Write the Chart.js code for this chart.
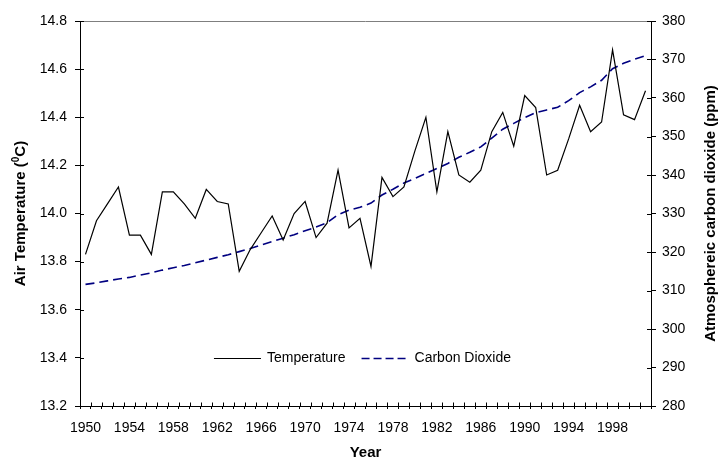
<!DOCTYPE html>
<html>
<head>
<meta charset="utf-8">
<script src="https://cdn.jsdelivr.net/npm/chart.js@4.4.1/dist/chart.umd.min.js"></script>
<style>
  html, body { margin: 0; padding: 0; background: #fff; }
  #wrap { width: 718px; height: 462px; }
</style>
</head>
<body>
<div id="wrap"><canvas id="c" width="718" height="462"></canvas></div>
<script>
// Annual mean air temperature and atmospheric CO2, 1950-2001
const years = [
  '1950','1951','1952','1953','1954','1955','1956','1957','1958','1959',
  '1960','1961','1962','1963','1964','1965','1966','1967','1968','1969',
  '1970','1971','1972','1973','1974','1975','1976','1977','1978','1979',
  '1980','1981','1982','1983','1984','1985','1986','1987','1988','1989',
  '1990','1991','1992','1993','1994','1995','1996','1997','1998','1999',
  '2000','2001'
];

// Air temperature (°C)
const temperature = [
  13.83, 13.97, 14.04, 14.11, 13.91, 13.91, 13.83, 14.09, 14.09, 14.04,
  13.98, 14.10, 14.05, 14.04, 13.76, 13.85, 13.92, 13.99, 13.89, 14.00,
  14.05, 13.90, 13.96, 14.18, 13.94, 13.98, 13.78, 14.15, 14.07, 14.11,
  14.26, 14.40, 14.09, 14.34, 14.16, 14.13, 14.18, 14.34, 14.42, 14.28,
  14.49, 14.44, 14.16, 14.18, 14.31, 14.45, 14.34, 14.38, 14.68, 14.41,
  14.39, 14.51
];

// Atmospheric carbon dioxide (ppm)
const carbonDioxide = [
  311.6, 312.0, 312.5, 313.0, 313.4, 314.0, 314.6, 315.3, 315.9, 316.5,
  317.2, 317.9, 318.6, 319.3, 320.1, 320.9, 321.8, 322.7, 323.6, 324.5,
  325.5, 326.5, 327.6, 329.7, 330.9, 331.6, 332.7, 334.8, 336.3, 337.9,
  339.1, 340.4, 341.7, 343.0, 344.6, 345.9, 347.3, 349.6, 351.9, 353.4,
  354.9, 356.2, 356.9, 357.6, 359.3, 361.4, 362.9, 364.6, 367.6, 369.0,
  370.1, 371.0
];

// Axis ranges and label text
const tempRange = { min: 13.2, max: 14.8, step: 0.2 };
const co2Range = { min: 280, max: 380, step: 10 };
const labelEvery = 4;
const titles = {
  x: 'Year',
  left: ['Air Temperature (', '0', 'C)'],
  right: 'Atmosphereic carbon dioxide (ppm)'
};

const FONT = "'Liberation Sans', Arial, sans-serif";

// Frame, inner tick halves, axis titles and the in-plot legend
const decorations = {
  id: 'decorations',
  afterDraw(chart) {
    const { ctx, chartArea: a, scales } = chart;
    ctx.save();

    // top edge of the plot frame
    ctx.strokeStyle = '#7f7f7f';
    ctx.lineWidth = 1;
    ctx.beginPath();
    ctx.moveTo(a.left, Math.round(a.top) + 0.5);
    ctx.lineTo(a.right, Math.round(a.top) + 0.5);
    ctx.stroke();

    // tick marks crossing into the plot area
    ctx.strokeStyle = '#000';
    ctx.beginPath();
    scales.y.ticks.forEach((t, i) => {
      const y = Math.round(scales.y.getPixelForTick(i)) + 0.5;
      ctx.moveTo(a.left, y); ctx.lineTo(a.left + 4, y);
    });
    scales.y1.ticks.forEach((t, i) => {
      const y = Math.round(scales.y1.getPixelForTick(i)) + 0.5;
      ctx.moveTo(a.right, y); ctx.lineTo(a.right - 4, y);
    });
    const xs = scales.x;
    const step = xs.getPixelForValue(1) - xs.getPixelForValue(0);
    for (let i = 0; i <= years.length; i++) {
      const px = Math.round(xs.getPixelForValue(i) - step / 2) + 0.5;
      ctx.moveTo(px, a.bottom); ctx.lineTo(px, a.bottom - 3.5);
    }
    ctx.stroke();

    ctx.fillStyle = '#000';
    const midY = (a.top + a.bottom) / 2;

    // left title with superscript degree mark
    ctx.save();
    ctx.translate(25, midY);
    ctx.rotate(-Math.PI / 2);
    const big = 'bold 15px ' + FONT, small = 'bold 10px ' + FONT;
    ctx.font = big; const w0 = ctx.measureText(titles.left[0]).width;
    ctx.font = small; const w1 = ctx.measureText(titles.left[1]).width;
    ctx.font = big; const w2 = ctx.measureText(titles.left[2]).width;
    let x0 = -(w0 + w1 + w2) / 2;
    ctx.textBaseline = 'alphabetic';
    ctx.textAlign = 'left';
    ctx.font = big; ctx.fillText(titles.left[0], x0, 0);
    ctx.font = small; ctx.fillText(titles.left[1], x0 + w0, -6);
    ctx.font = big; ctx.fillText(titles.left[2], x0 + w0 + w1, 0);
    ctx.restore();

    // right title
    ctx.save();
    ctx.translate(715, midY);
    ctx.rotate(-Math.PI / 2);
    ctx.font = big;
    ctx.textAlign = 'center';
    ctx.textBaseline = 'alphabetic';
    ctx.fillText(titles.right, 0, 0);
    ctx.restore();

    // x title
    ctx.font = big;
    ctx.textAlign = 'center';
    ctx.textBaseline = 'alphabetic';
    ctx.fillText(titles.x, (a.left + a.right) / 2, 457);

    // legend
    ctx.font = '14px ' + FONT;
    ctx.textBaseline = 'middle';
    ctx.textAlign = 'left';
    const lineLen = 47, gap = 6, itemGap = 16;
    const items = chart.data.datasets.map(ds => ({ ds, w: ctx.measureText(ds.label).width }));
    const total = items.reduce((s, it) => s + lineLen + gap + it.w, 0) + itemGap * (items.length - 1);
    let lx = (a.left + a.right) / 2 - 3 - total / 2;
    const ly = a.bottom - 48;
    items.forEach(it => {
      ctx.save();
      ctx.strokeStyle = it.ds.borderColor;
      ctx.lineWidth = it.ds.borderWidth;
      ctx.setLineDash(it.ds.borderDash ? [8, 4] : []);
      ctx.beginPath();
      ctx.moveTo(lx, ly + 0.5); ctx.lineTo(lx + lineLen, ly + 0.5);
      ctx.stroke();
      ctx.restore();
      ctx.fillStyle = '#000';
      ctx.fillText(it.ds.label, lx + lineLen + gap, ly);
      lx += lineLen + gap + it.w + itemGap;
    });

    ctx.restore();
  }
};

new Chart(document.getElementById('c'), {
  type: 'line',
  data: {
    labels: years,
    datasets: [
      {
        label: 'Temperature',
        data: temperature,
        yAxisID: 'y',
        borderColor: '#000000',
        borderWidth: 1.2,
        pointRadius: 0,
        tension: 0,
        fill: false
      },
      {
        label: 'Carbon Dioxide',
        data: carbonDioxide,
        yAxisID: 'y1',
        borderColor: '#000080',
        borderWidth: 1.6,
        borderDash: [9, 5],
        pointRadius: 0,
        tension: 0,
        fill: false
      }
    ]
  },
  options: {
    responsive: false,
    animation: false,
    devicePixelRatio: 1,
    layout: { padding: { top: 21, left: 0, right: 0, bottom: 0 } },
    plugins: {
      legend: { display: false },
      tooltip: { enabled: false }
    },
    scales: {
      x: {
        type: 'category',
        offset: true,
        grid: { offset: true, drawOnChartArea: false, drawTicks: true, tickLength: 3, color: '#000', lineWidth: 1 },
        border: { color: '#000', width: 1 },
        ticks: {
          autoSkip: false,
          maxRotation: 0,
          minRotation: 0,
          padding: 11,
          color: '#000',
          font: { family: FONT, size: 14 },
          callback: (v, i) => (i % labelEvery === 0 ? years[i] : '')
        },
        afterFit: s => { s.height = 56; }
      },
      y: {
        type: 'linear',
        position: 'left',
        min: tempRange.min,
        max: tempRange.max,
        grid: { drawOnChartArea: false, drawTicks: true, tickLength: 5, color: '#000' },
        border: { color: '#000', width: 1 },
        ticks: {
          stepSize: tempRange.step,
          padding: 8,
          color: '#000',
          font: { family: FONT, size: 14 },
          callback: v => Number(v).toFixed(1)
        },
        afterFit: s => { s.width = 80; }
      },
      y1: {
        type: 'linear',
        position: 'right',
        min: co2Range.min,
        max: co2Range.max,
        grid: { drawOnChartArea: false, drawTicks: true, tickLength: 5, color: '#000' },
        border: { color: '#000', width: 1 },
        ticks: {
          stepSize: co2Range.step,
          padding: 6,
          color: '#000',
          font: { family: FONT, size: 14 }
        },
        afterFit: s => { s.width = 67; }
      }
    }
  },
  plugins: [decorations]
});
</script>
</body>
</html>
